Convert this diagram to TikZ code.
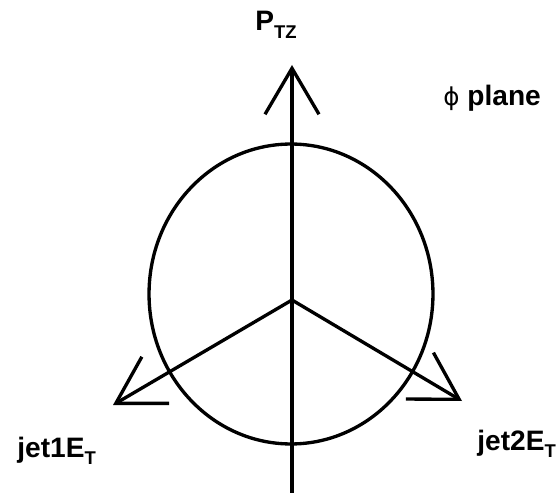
\documentclass[tikz,border=0pt]{standalone}
\usepackage{fontspec}
\setmainfont{Liberation Sans}
\newfontfamily\simbolos{DejaVu Sans}
\usetikzlibrary{arrows.meta}
\newcommand{\lowsub}[1]{\raisebox{-4.5pt}{\fontsize{10.5}{10.5}\selectfont #1}}
\tikzset{
  trazo/.style={line width=1.9pt},
  flecha/.style={line width=1.9pt,
                 -{Straight Barb[length=0.92cm, width=1.08cm, line width=1.9pt]}},
  etiqueta/.style={anchor=base west, inner sep=0pt, font=\fontsize{16}{16}\selectfont\bfseries}
}
\begin{document}
\begin{tikzpicture}[x=0.02cm, y=-0.02cm]
    \useasboundingbox (0,0) rectangle (558,493);
    \coordinate (o)   at (292,300);
    \coordinate (ptz) at (292,65);
    \coordinate (bot) at (292,496);
    \coordinate (j1)  at (113,405);
    \coordinate (j2)  at (462,401);
    \coordinate (c)   at (291,294);
    % plano phi
    \draw[trazo] (c) ellipse [x radius=2.84cm, y radius=3.0cm];
    \draw[flecha] (bot) -- (ptz);
    \draw[flecha] (o) -- (j1);
    \draw[flecha] (o) -- (j2);
    % etiquetas
    \node[etiqueta] (lptz) at (255,31) {P\lowsub{TZ}};
    \node[etiqueta] (lphi) at (443,106) {{\simbolos\mdseries\fontsize{14}{14}\selectfont ϕ} plane};
    \node[etiqueta] (lj1)  at (17,457)  {jet1E\lowsub{T}};
    \node[etiqueta] (lj2)  at (477,450) {jet2E\lowsub{T}};
\end{tikzpicture}
\end{document}
